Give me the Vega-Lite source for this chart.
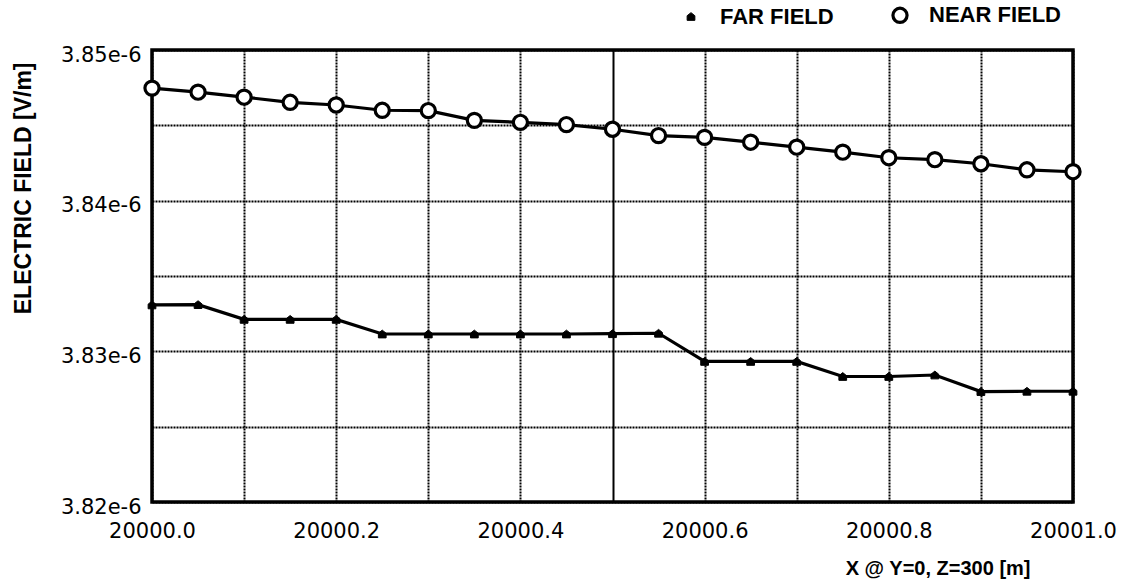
{
  "$schema": "https://vega.github.io/schema/vega-lite/v6.json",
  "autosize": {"type": "none"},
  "padding": {"left": 152, "top": 50, "right": 57, "bottom": 86},
  "width": 921,
  "height": 452,
  "background": "white",
  "config": {
    "view": {"stroke": "black", "strokeWidth": 3.5},
    "axis": {"domain": false, "ticks": false, "grid": true, "gridColor": "black", "gridOpacity": 1, "gridWidth": 2,
             "labelColor": "black", "labelFont": "DejaVu Sans", "labelFontSize": 21, "labelFontWeight": "normal",
             "titleColor": "black", "titleFont": "Liberation Sans", "titleFontWeight": "bold"}
  },
  "data": {"values": [
    {"x": 20000.00, "series": "NEAR FIELD", "v": 3.84747e-6},
    {"x": 20000.05, "series": "NEAR FIELD", "v": 3.84720e-6},
    {"x": 20000.10, "series": "NEAR FIELD", "v": 3.84687e-6},
    {"x": 20000.15, "series": "NEAR FIELD", "v": 3.84653e-6},
    {"x": 20000.20, "series": "NEAR FIELD", "v": 3.84635e-6},
    {"x": 20000.25, "series": "NEAR FIELD", "v": 3.84600e-6},
    {"x": 20000.30, "series": "NEAR FIELD", "v": 3.84598e-6},
    {"x": 20000.35, "series": "NEAR FIELD", "v": 3.84533e-6},
    {"x": 20000.40, "series": "NEAR FIELD", "v": 3.84520e-6},
    {"x": 20000.45, "series": "NEAR FIELD", "v": 3.84505e-6},
    {"x": 20000.50, "series": "NEAR FIELD", "v": 3.84474e-6},
    {"x": 20000.55, "series": "NEAR FIELD", "v": 3.84432e-6},
    {"x": 20000.60, "series": "NEAR FIELD", "v": 3.84420e-6},
    {"x": 20000.65, "series": "NEAR FIELD", "v": 3.84388e-6},
    {"x": 20000.70, "series": "NEAR FIELD", "v": 3.84355e-6},
    {"x": 20000.75, "series": "NEAR FIELD", "v": 3.84322e-6},
    {"x": 20000.80, "series": "NEAR FIELD", "v": 3.84285e-6},
    {"x": 20000.85, "series": "NEAR FIELD", "v": 3.84272e-6},
    {"x": 20000.90, "series": "NEAR FIELD", "v": 3.84245e-6},
    {"x": 20000.95, "series": "NEAR FIELD", "v": 3.84205e-6},
    {"x": 20001.00, "series": "NEAR FIELD", "v": 3.84192e-6},
    {"x": 20000.00, "series": "FAR FIELD", "v": 3.83308e-6},
    {"x": 20000.05, "series": "FAR FIELD", "v": 3.83310e-6},
    {"x": 20000.10, "series": "FAR FIELD", "v": 3.83212e-6},
    {"x": 20000.15, "series": "FAR FIELD", "v": 3.83212e-6},
    {"x": 20000.20, "series": "FAR FIELD", "v": 3.83212e-6},
    {"x": 20000.25, "series": "FAR FIELD", "v": 3.83115e-6},
    {"x": 20000.30, "series": "FAR FIELD", "v": 3.83115e-6},
    {"x": 20000.35, "series": "FAR FIELD", "v": 3.83115e-6},
    {"x": 20000.40, "series": "FAR FIELD", "v": 3.83115e-6},
    {"x": 20000.45, "series": "FAR FIELD", "v": 3.83115e-6},
    {"x": 20000.50, "series": "FAR FIELD", "v": 3.83117e-6},
    {"x": 20000.55, "series": "FAR FIELD", "v": 3.83120e-6},
    {"x": 20000.60, "series": "FAR FIELD", "v": 3.82933e-6},
    {"x": 20000.65, "series": "FAR FIELD", "v": 3.82933e-6},
    {"x": 20000.70, "series": "FAR FIELD", "v": 3.82933e-6},
    {"x": 20000.75, "series": "FAR FIELD", "v": 3.82833e-6},
    {"x": 20000.80, "series": "FAR FIELD", "v": 3.82833e-6},
    {"x": 20000.85, "series": "FAR FIELD", "v": 3.82843e-6},
    {"x": 20000.90, "series": "FAR FIELD", "v": 3.82733e-6},
    {"x": 20000.95, "series": "FAR FIELD", "v": 3.82735e-6},
    {"x": 20001.00, "series": "FAR FIELD", "v": 3.82735e-6}
  ]},
  "encoding": {
    "x": {"field": "x", "type": "quantitative",
          "scale": {"domain": [20000, 20001], "nice": false, "zero": false},
          "axis": {"values": [20000, 20000.1, 20000.2, 20000.3, 20000.4, 20000.5, 20000.6, 20000.7, 20000.8, 20000.9, 20001],
                   "labelExpr": "round(datum.value*10) % 2 === 0 ? format(datum.value, '.1f') : ''",
                   "labelOverlap": false, "labelFlush": false, "labelPadding": 18,
                   "gridDash": {"condition": {"test": "abs(datum.value - 20000.5) < 0.001", "value": []}, "value": [2, 1]},
                   "title": "X @ Y=0, Z=300 [m]", "titleFontSize": 20,
                   "titleAlign": "right", "titleAnchor": "end", "titleX": 878, "titleY": 72, "titleBaseline": "alphabetic"}},
    "y": {"field": "v", "type": "quantitative",
          "scale": {"domain": [3.82e-6, 3.85e-6], "nice": false, "zero": false},
          "axis": {"values": [3.82e-6, 3.825e-6, 3.83e-6, 3.835e-6, 3.84e-6, 3.845e-6, 3.85e-6],
                   "labelExpr": "abs(datum.value*1e8 - round(datum.value*1e8)) < 0.01 ? format(datum.value*1e6, '.2f') + 'e-6' : ''",
                   "labelOverlap": false, "labelFlush": false, "labelPadding": 11, "labelOffset": 5,
                   "gridDash": [2, 1],
                   "title": "ELECTRIC FIELD [V/m]", "titleFontSize": 23, "titleAngle": -90,
                   "titleAlign": "right", "titleX": -129, "titleY": 12, "titleBaseline": "middle"}}
  },
  "layer": [
    {"mark": {"type": "line", "color": "black", "strokeWidth": 3.2},
     "encoding": {"detail": {"field": "series"}}},
    {"mark": {"type": "point", "filled": true, "opacity": 1, "stroke": "black"},
     "encoding": {
       "shape": {"field": "series", "type": "nominal",
                 "scale": {"domain": ["FAR FIELD", "NEAR FIELD"], "range": ["M-1,1L1,1L1,-0.2L0,-1L-1,-0.2Z", "circle"]},
                 "legend": {"orient": "none", "legendX": 528, "legendY": -46, "direction": "horizontal", "title": null,
                            "labelFont": "Liberation Sans", "labelFontWeight": "bold", "labelFontSize": 22, "labelColor": "black",
                            "labelOffset": 18, "columnPadding": 52, "symbolStrokeColor": "black"}},
       "fill": {"field": "series", "type": "nominal", "scale": {"domain": ["FAR FIELD", "NEAR FIELD"], "range": ["black", "white"]}},
       "size": {"field": "series", "type": "nominal", "scale": {"domain": ["FAR FIELD", "NEAR FIELD"], "range": [60, 200]}},
       "strokeWidth": {"field": "series", "type": "nominal", "scale": {"domain": ["FAR FIELD", "NEAR FIELD"], "range": [1, 3.2]}}
     }}
  ]
}
